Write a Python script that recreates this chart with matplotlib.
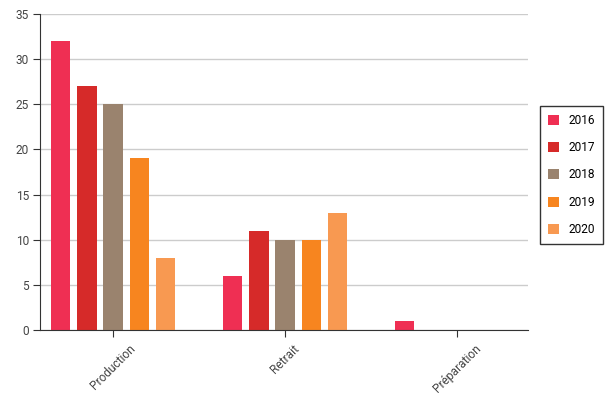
import matplotlib.pyplot as plt
import numpy as np
from matplotlib.patches import Patch

plt.rcParams["font.family"] = ["Roboto", "DejaVu Sans"]

categories = ["Production", "Retrait", "Préparation"]
years = ["2016", "2017", "2018", "2019", "2020"]
values = {
    "2016": [32, 6, 1],
    "2017": [27, 11, 0],
    "2018": [25, 10, 0],
    "2019": [19, 10, 0],
    "2020": [8, 13, 0],
}
colors = ["#EF2F53", "#D62A29", "#9A836E", "#F7851F", "#F89951"]

fig = plt.figure(figsize=(6.07, 3.95), dpi=100)
ax = fig.add_axes([40 / 607, 65 / 395, 488 / 607, 316 / 395])

x = np.arange(len(categories))
step = 0.152
width = 0.112
for k, (yr, col) in enumerate(zip(years, colors)):
    ax.bar(x + (k - 2) * step, values[yr], width=width, color=col, zorder=2)

ax.set_xlim(-0.425, 2.413)
ax.set_ylim(0, 35)
ax.set_yticks(range(0, 36, 5))
ax.set_xticks(x)
ax.set_xticklabels(categories, rotation=45, ha="center", va="top")
ax.yaxis.grid(True, color="#cccccc", linewidth=1, zorder=0)
ax.set_axisbelow(True)

for side in ["top", "right"]:
    ax.spines[side].set_visible(False)
for side in ["left", "bottom"]:
    ax.spines[side].set_color("#333333")
ax.tick_params(axis="both", colors="#333333", labelcolor="#444444", labelsize=8.6, length=5)
ax.tick_params(axis="y", pad=3)
ax.tick_params(axis="x", pad=4)

handles = [Patch(facecolor=c, edgecolor="none") for c in colors]
leg = fig.legend(handles, years, loc="upper left", bbox_to_anchor=(540 / 607, 1 - 106 / 395),
                 frameon=True, fancybox=False, edgecolor="black", fontsize=8.6,
                 handlelength=0.95, handleheight=0.95, labelspacing=1.2,
                 handletextpad=0.8, borderpad=0.65, borderaxespad=0)
leg.get_frame().set_linewidth(1)

fig.savefig("out.png", dpi=100)
